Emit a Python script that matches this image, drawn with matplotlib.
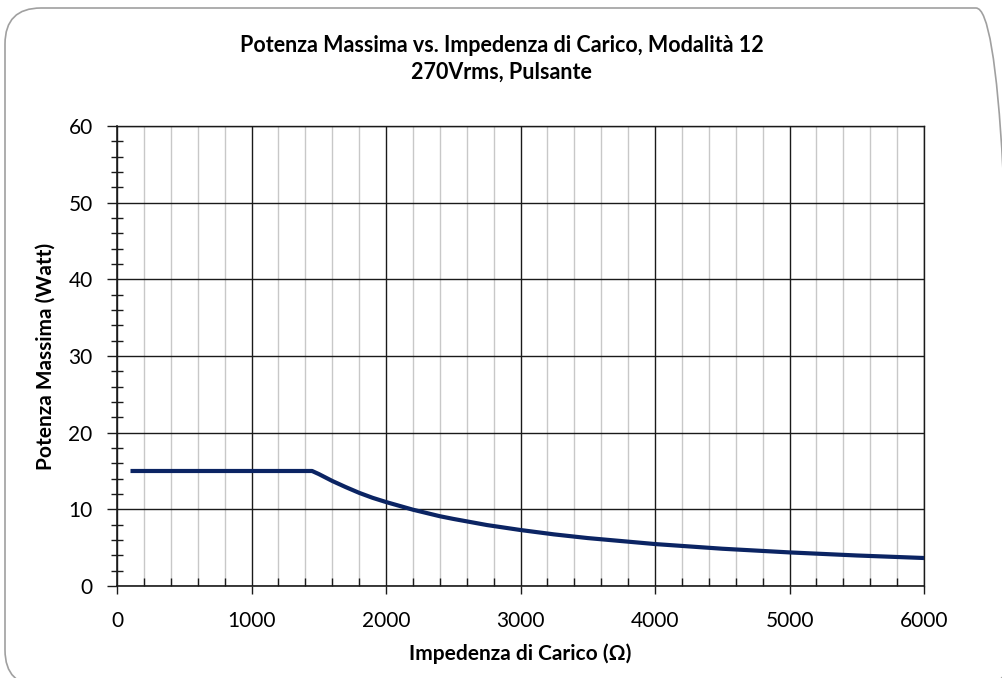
import numpy as np
import matplotlib
matplotlib.use("Agg")
import matplotlib.pyplot as plt
from matplotlib.patches import FancyBboxPatch
from matplotlib.ticker import MultipleLocator

# values
impedance = [100, 1450, 1500, 1600, 1700, 1800, 1900, 2000, 2200, 2400, 2500,
             2750, 3000, 3250, 3500, 4000, 4500, 5000, 5500, 6000]
power = [15.0, 15.0, 14.6, 13.7, 12.9, 12.15, 11.5, 10.95, 9.95, 9.1, 8.75,
         7.95, 7.3, 6.73, 6.25, 5.47, 4.86, 4.38, 3.98, 3.65]

title = "Potenza Massima vs. Impedenza di Carico, Modalità 12\n270Vrms, Pulsante"
xlabel = "Impedenza di Carico (Ω)"
ylabel = "Potenza Massima (Watt)"

plt.rcParams['font.family'] = ['Lato', 'DejaVu Sans']

fig = plt.figure(figsize=(10.03, 6.78), dpi=100)

# rounded chart frame (runs off the right and bottom edges, as in the original)
frame = FancyBboxPatch((0.05, -0.08), 10.07, 6.78, boxstyle="round,pad=0,rounding_size=0.36",
                       transform=fig.dpi_scale_trans, facecolor='none', edgecolor='#a0a0a0',
                       linewidth=1.2, zorder=-1)
fig.patches.append(frame)

ax = fig.add_axes([0.1167, 0.1357, 0.8046, 0.6785])
ax.set_xlim(0, 6000)
ax.set_ylim(0, 60)

ax.xaxis.set_major_locator(MultipleLocator(1000))
ax.xaxis.set_minor_locator(MultipleLocator(200))
ax.yaxis.set_major_locator(MultipleLocator(10))
ax.yaxis.set_minor_locator(MultipleLocator(2))

ax.grid(which='minor', axis='x', color='#c8c8c8', linewidth=1.0)
ax.grid(which='major', axis='both', color='#1a1a1a', linewidth=1.0)
ax.set_axisbelow(True)

for side in ['top', 'right']:
    ax.spines[side].set_color('#1a1a1a')
    ax.spines[side].set_linewidth(1.0)
for side in ['left', 'bottom']:
    ax.spines[side].set_color('#1a1a1a')
    ax.spines[side].set_linewidth(1.2)

ax.tick_params(axis='x', which='major', direction='out', length=6, width=1.0, color='#1a1a1a',
               labelsize=15, pad=12)
ax.tick_params(axis='x', which='minor', direction='in', length=6, width=1.0, color='#1a1a1a')
ax.tick_params(axis='y', which='major', direction='out', length=7.5, width=1.0, color='#1a1a1a',
               labelsize=15, pad=10)
ax.tick_params(axis='y', which='minor', direction='inout', length=9, width=1.0, color='#1a1a1a')

ax.plot(impedance, power, color='#0b2463', linewidth=3.0, solid_capstyle='butt', zorder=3)

ax.set_xlabel(xlabel, fontsize=15, fontweight='bold', labelpad=9)
ax.set_ylabel(ylabel, fontsize=15, fontweight='bold', labelpad=9)
fig.text(0.5, 0.913, title, ha='center', va='center', fontsize=15.5, fontweight='bold',
         linespacing=1.3)

fig.savefig("out.png", dpi=100)
